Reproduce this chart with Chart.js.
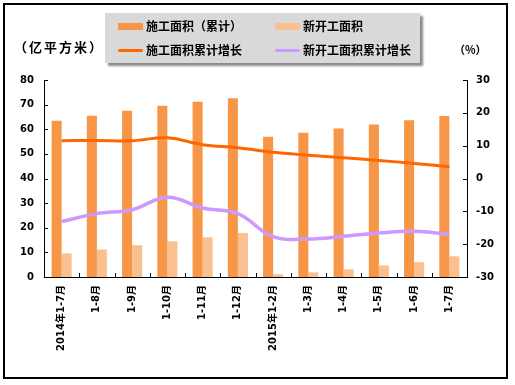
<!DOCTYPE html>
<html><head><meta charset="utf-8">
<script src="https://cdn.jsdelivr.net/npm/chart.js@4"></script>
<style>
html,body{margin:0;padding:0;background:#fff;}
#wrap{position:relative;width:515px;height:385px;overflow:hidden;}
#frame{position:absolute;left:3px;top:3px;width:505px;height:376px;border:2px solid #000;box-sizing:border-box;pointer-events:none;}
canvas{position:absolute;left:0;top:0;}
.t{position:absolute;font-family:"Noto Sans CJK SC",sans-serif;font-weight:bold;color:#000;white-space:nowrap;}
#legend{position:absolute;left:105px;top:13px;width:315px;height:50px;background:#D9D9D9;box-shadow:3px 3px 2px #8a8a8a;}
.sym{position:absolute;}
.lt{position:absolute;font-family:"Noto Sans CJK SC",sans-serif;font-weight:bold;font-size:12px;line-height:14px;color:#000;white-space:nowrap;}
</style></head>
<body><div id="wrap">
<canvas id="c" width="515" height="385"></canvas>
<div class="t" style="left:14px;top:37px;font-size:13px;letter-spacing:2px;">（亿平方米）</div>
<div class="t" style="left:454px;top:41px;font-size:11px;">（%）</div>
<div id="legend"></div>
<div id="frame"></div>
</div>
<script>
const categories = ['2014年1-7月','1-8月','1-9月','1-10月','1-11月','1-12月','2015年1-2月','1-3月','1-4月','1-5月','1-6月','1-7月'];
const constructionArea = [63.5,65.5,67.5,69.5,71.2,72.6,57.0,58.6,60.3,61.9,63.7,65.4];
const newStartArea = [9.6,11.2,12.9,14.5,16.1,17.9,1.1,1.9,3.1,4.7,6.0,8.4];
const constructionGrowth = [11.5,11.6,11.5,12.4,10.3,9.4,8.0,7.1,6.3,5.5,4.6,3.6];
const newStartGrowth = [-13.1,-10.7,-9.5,-5.7,-9.0,-10.7,-17.7,-18.4,-17.6,-16.6,-16.1,-17.0];
const seriesNames = ['施工面积（累计）','新开工面积','施工面积累计增长','新开工面积累计增长'];
const leftTicks = {min:0,max:80,step:10};
const rightTicks = {min:-30,max:30,step:10};

const colors = ['#F79646','#FAC090','#FF6600','#CC99FF'];

// HTML legend
const lg = document.getElementById('legend');
const pos = [[13,10,'bar'],[170,10,'bar'],[13,34,'line'],[170,34,'line']];
seriesNames.forEach((n,i)=>{
  const [x,y,kind] = pos[i];
  const s = document.createElement('div'); s.className='sym';
  if(kind==='bar'){ s.style.cssText=`left:${x}px;top:${y}px;width:25px;height:7px;background:${colors[i]};`; }
  else { s.style.cssText=`left:${x}px;top:${y+2}px;width:25px;height:3px;background:${colors[i]};border-radius:2px;`; }
  lg.appendChild(s);
  const t = document.createElement('div'); t.className='lt';
  t.style.left=(x+28)+'px'; t.style.top=(y-4)+'px'; t.textContent=n;
  lg.appendChild(t);
});

Chart.defaults.font.family = "'DejaVu Sans','Noto Sans CJK SC',sans-serif";
Chart.defaults.font.size = 10;
Chart.defaults.font.weight = 'bold';
Chart.defaults.color = '#000';

const innerTicks = {
  id:'innerTicks',
  afterDraw(chart){
    const ctx = chart.ctx, a = chart.chartArea;
    ctx.save(); ctx.strokeStyle='#000'; ctx.lineWidth=1;
    const y = chart.scales.y, y1 = chart.scales.y1, x = chart.scales.x;
    y.ticks.forEach(t=>{const p=Math.round(y.getPixelForValue(t.value))+0.5;ctx.beginPath();ctx.moveTo(a.left,p);ctx.lineTo(a.left+4,p);ctx.stroke();});
    y1.ticks.forEach(t=>{const p=Math.round(y1.getPixelForValue(t.value))+0.5;ctx.beginPath();ctx.moveTo(a.right-4,p);ctx.lineTo(a.right,p);ctx.stroke();});
    for(let i=1;i<categories.length;i++){
      const p=Math.round((x.getPixelForValue(i-1)+x.getPixelForValue(i))/2)+0.5;
      ctx.beginPath();ctx.moveTo(p,a.bottom);ctx.lineTo(p,a.bottom-4);ctx.stroke();
    }
    ctx.restore();
  }
};

new Chart(document.getElementById('c'),{
  type:'bar',
  data:{labels:categories,datasets:[
    {type:'line',label:seriesNames[2],data:constructionGrowth,yAxisID:'y1',borderColor:colors[2],borderWidth:3,pointRadius:0,tension:0.4,order:0,fill:false},
    {type:'line',label:seriesNames[3],data:newStartGrowth,yAxisID:'y1',borderColor:colors[3],borderWidth:3.5,pointRadius:0,tension:0.4,order:0,fill:false},
    {label:seriesNames[0],data:constructionArea,yAxisID:'y',backgroundColor:colors[0],order:1,categoryPercentage:0.57,barPercentage:1.0},
    {label:seriesNames[1],data:newStartArea,yAxisID:'y',backgroundColor:colors[1],order:1,categoryPercentage:0.57,barPercentage:1.0}
  ]},
  options:{
    responsive:false,animation:false,
    layout:{padding:{left:0,right:0,top:80,bottom:0}},
    plugins:{legend:{display:false},tooltip:{enabled:false}},
    scales:{
      x:{grid:{display:false,drawTicks:false},border:{display:true,color:'#000',width:1},
         ticks:{minRotation:90,maxRotation:90,autoSkip:false,padding:8},
         afterFit(s){s.height=108;}},
      y:{position:'left',min:leftTicks.min,max:leftTicks.max,grid:{display:false,drawTicks:false},
         border:{display:true,color:'#000',width:1},
         ticks:{stepSize:leftTicks.step,padding:10},afterFit(s){s.width=44;}},
      y1:{position:'right',min:rightTicks.min,max:rightTicks.max,grid:{display:false,drawTicks:false},
         border:{display:true,color:'#000',width:1},
         ticks:{stepSize:rightTicks.step,padding:9},afterFit(s){s.width=48;}}
    }
  },
  plugins:[innerTicks]
});
</script>
</body></html>
